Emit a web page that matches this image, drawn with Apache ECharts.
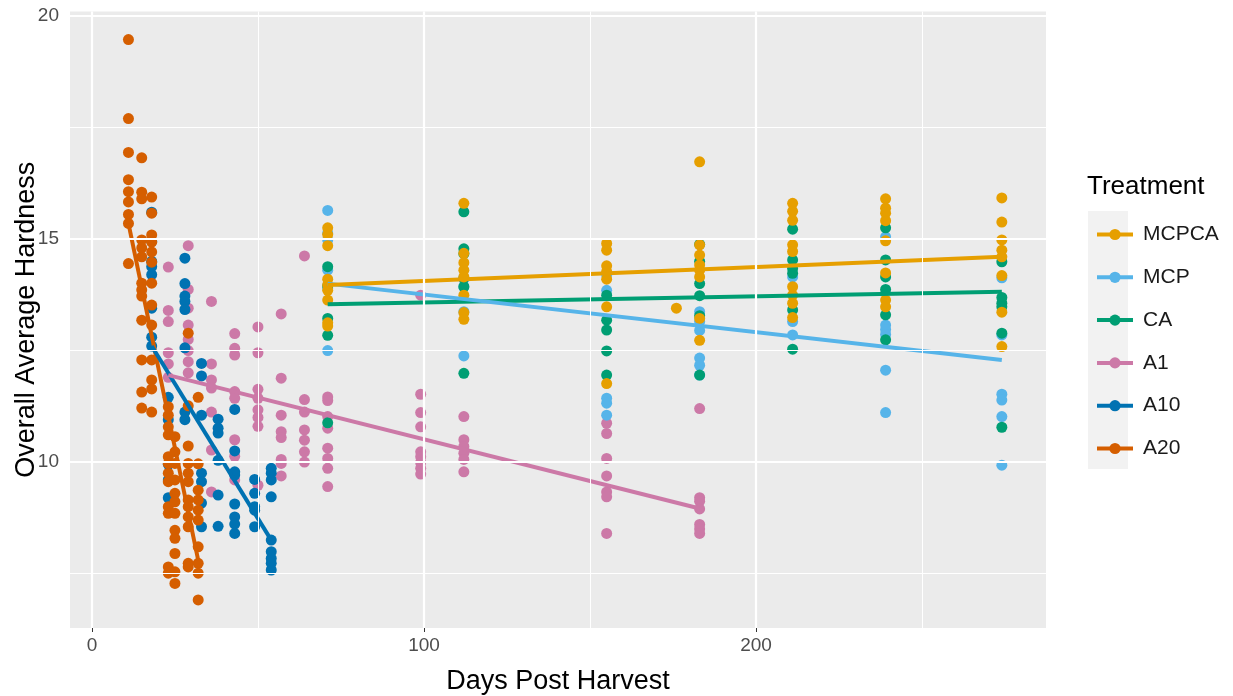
<!DOCTYPE html>
<html>
<head>
<meta charset="utf-8">
<script src="https://cdn.jsdelivr.net/npm/echarts@6/dist/echarts.min.js"></script>
<style>
  html, body { margin: 0; padding: 0; background: #ffffff; }
  #chart { width: 1233px; height: 696px; }
</style>
</head>
<body>
<div id="chart"></div>
<script>
// Hardness measurements by treatment: sampling day and the readings taken on that day
const A20_days = [11, 15, 18, 23, 25, 29, 32];
const A20_values = [
  [19.47, 17.70, 16.94, 16.33, 16.06, 15.83, 15.55, 15.35, 14.45],
  [16.82, 16.05, 15.90, 14.98, 14.80, 14.60, 14.01, 13.86, 13.72, 13.18, 12.29, 11.57, 11.21],
  [15.94, 15.58, 15.09, 14.93, 14.71, 14.48, 14.01, 13.52, 13.07, 12.29, 11.84, 11.64, 11.12],
  [11.24, 11.05, 10.79, 10.61, 10.12, 9.97, 9.75, 9.56, 9.00, 8.85, 7.65, 7.51],
  [10.57, 10.23, 9.97, 9.60, 9.30, 9.11, 8.85, 8.47, 8.29, 7.95, 7.54, 7.28],
  [12.89, 11.26, 10.36, 9.97, 9.75, 9.56, 9.15, 9.00, 8.77, 8.55, 7.73, 7.65],
  [11.45, 9.96, 9.37, 9.15, 8.92, 8.70, 8.10, 7.73, 7.51, 6.91]
];

const A10_days = [18, 23, 28, 33, 38, 43, 49, 54];
const A10_values = [
  [15.60, 14.95, 14.50, 14.38, 14.20, 13.45, 12.80, 12.60],
  [11.45, 10.95, 9.95, 9.60, 9.20],
  [14.57, 14.00, 13.72, 13.60, 13.42, 12.56, 11.12, 10.95],
  [12.21, 11.93, 11.05, 9.75, 9.56, 9.08, 8.55],
  [10.96, 10.76, 10.65, 10.04, 9.26, 8.56],
  [11.18, 10.25, 9.78, 9.71, 9.06, 8.77, 8.61, 8.40],
  [9.61, 9.30, 9.00, 8.92, 8.55],
  [9.86, 9.75, 9.60, 9.22, 8.25, 7.99, 7.84, 7.73, 7.58]
];

const A1_days = [23, 29, 36, 43, 50, 57, 64, 71, 99, 112, 155, 183];
const A1_values = [
  [14.37, 13.40, 13.15, 12.45, 12.20, 11.90],
  [14.85, 13.87, 13.45, 13.07, 12.75, 12.50, 12.25, 12.00],
  [13.60, 12.20, 11.84, 11.66, 11.12, 10.27, 9.33],
  [12.88, 12.55, 12.40, 11.58, 11.43, 10.50, 10.13, 9.60],
  [13.03, 12.45, 11.63, 11.43, 11.17, 11.00, 10.80, 9.48],
  [13.32, 11.88, 11.05, 10.68, 10.55, 10.06, 9.97, 9.69],
  [14.62, 11.40, 11.12, 10.72, 10.49, 10.23, 10.00],
  [11.46, 11.38, 11.02, 10.76, 10.31, 10.08, 9.86, 9.45],
  [13.74, 11.52, 11.11, 10.79, 10.23, 10.12, 9.99, 9.86, 9.73],
  [11.02, 10.50, 10.35, 10.20, 10.06, 9.78],
  [10.87, 10.64, 10.08, 9.69, 9.33, 9.22, 8.40],
  [11.20, 9.20, 9.12, 8.95, 8.60, 8.50, 8.40]
];

const MCP_days = [71, 112, 155, 183, 211, 239, 274];
const MCP_values = [
  [15.64, 15.13, 14.98, 14.30, 13.90, 12.50],
  [14.10, 13.93, 13.37, 12.38],
  [14.20, 13.85, 11.43, 11.32, 11.05],
  [13.37, 13.15, 12.95, 12.33, 12.17, 11.95],
  [14.15, 13.15, 12.85],
  [15.05, 13.07, 12.97, 12.86, 12.06, 11.11],
  [14.13, 12.85, 11.52, 11.39, 11.02, 9.93]
];

const CA_days = [71, 112, 155, 183, 211, 239, 274];
const CA_values = [
  [14.38, 13.95, 13.22, 12.84, 10.88],
  [15.61, 14.78, 14.67, 14.12, 13.93, 11.99],
  [13.74, 13.18, 12.96, 12.49, 11.95],
  [14.88, 14.50, 14.00, 13.73, 13.28, 11.95],
  [15.22, 14.53, 14.34, 14.23, 13.41, 12.53],
  [15.25, 14.53, 14.15, 13.87, 13.30, 12.74],
  [14.49, 13.69, 13.56, 13.48, 12.89, 10.78]
];

const MCPCA_days = [71, 112, 155, 176, 183, 211, 239, 274];
const MCPCA_values = [
  [15.25, 15.10, 14.85, 14.10, 13.97, 13.85, 13.63, 13.12, 13.05],
  [15.80, 14.68, 14.47, 14.30, 14.15, 13.74, 13.35, 13.20],
  [14.90, 14.75, 14.40, 14.27, 14.10, 13.48, 11.76],
  [13.45],
  [16.73, 14.87, 14.64, 14.42, 14.30, 14.15, 13.22, 12.73],
  [15.80, 15.62, 15.42, 14.87, 14.72, 13.93, 13.74, 13.56, 13.24],
  [15.90, 15.69, 15.58, 15.41, 14.96, 14.24, 13.63, 13.48],
  [15.92, 15.38, 14.98, 14.75, 14.60, 14.18, 13.36, 12.59]
];

// Linear trend for each treatment: [day, hardness] at the first and last sampling day
const MCPCA_fit = [[71, 13.97], [274, 14.60]];
const MCP_fit   = [[71, 14.00], [274, 12.29]];
const CA_fit    = [[71, 13.54], [274, 13.82]];
const A1_fit    = [[23, 11.95], [183, 8.96]];
const A10_fit   = [[18, 12.60], [54, 8.25]];
const A20_fit   = [[11, 15.35], [32, 7.80]];

const treatmentNames = ['MCPCA', 'MCP', 'CA', 'A1', 'A10', 'A20'];

// Axis breaks
const xMajor = [0, 100, 200];
const xMinor = [50, 150, 250];
const yMajor = [10, 15, 20];
const yMinor = [7.5, 12.5, 17.5];

const palette = {
  MCPCA: '#E69F00', MCP: '#56B4E9', CA: '#009E73',
  A1: '#CC79A7', A10: '#0072B2', A20: '#D55E00'
};

function toPoints(days, values) {
  const out = [];
  days.forEach((d, i) => values[i].forEach(v => out.push([d, v])));
  return out;
}

const groups = {
  MCPCA: { pts: toPoints(MCPCA_days, MCPCA_values), fit: MCPCA_fit },
  MCP:   { pts: toPoints(MCP_days, MCP_values),     fit: MCP_fit },
  CA:    { pts: toPoints(CA_days, CA_values),       fit: CA_fit },
  A1:    { pts: toPoints(A1_days, A1_values),       fit: A1_fit },
  A10:   { pts: toPoints(A10_days, A10_values),     fit: A10_fit },
  A20:   { pts: toPoints(A20_days, A20_values),     fit: A20_fit }
};

const FONT = '"Liberation Sans", Arial, Helvetica, sans-serif';

const series = [];

// panel grid lines
series.push({
  type: 'scatter',
  data: [],
  z: 1,
  silent: true,
  markLine: {
    silent: true,
    animation: false,
    symbol: ['none', 'none'],
    label: { show: false },
    emphasis: { disabled: true },
    data: [
      ...xMinor.map(v => ({ xAxis: v, lineStyle: { color: '#ffffff', width: 1, type: 'solid' } })),
      ...yMinor.map(v => ({ yAxis: v, lineStyle: { color: '#ffffff', width: 1, type: 'solid' } })),
      ...xMajor.map(v => ({ xAxis: v, lineStyle: { color: '#ffffff', width: 2.2, type: 'solid' } })),
      ...yMajor.map(v => ({ yAxis: v, lineStyle: { color: '#ffffff', width: 2.2, type: 'solid' } }))
    ]
  }
});

// trend lines (listed first so the legend takes its line + dot key from them)
const lineOrder = ['A20', 'A10', 'A1', 'CA', 'MCP', 'MCPCA'];
lineOrder.forEach(name => {
  series.push({
    name: name,
    type: 'line',
    data: groups[name].fit,
    z: 4,
    symbol: 'circle',
    showSymbol: false,
    silent: true,
    animation: false,
    lineStyle: { color: palette[name], width: 4 },
    itemStyle: { color: palette[name] }
  });
});

// observations
const pointOrder = ['A1', 'A10', 'A20', 'MCP', 'CA', 'MCPCA'];
pointOrder.forEach(name => {
  series.push({
    name: name,
    type: 'scatter',
    data: groups[name].pts,
    z: 2,
    symbol: 'circle',
    symbolSize: 11,
    silent: true,
    animation: false,
    itemStyle: { color: palette[name], opacity: 1 }
  });
});

const chart = echarts.init(document.getElementById('chart'), null, { renderer: 'canvas' });

chart.setOption({
  animation: false,
  backgroundColor: '#ffffff',
  textStyle: { fontFamily: FONT },
  grid: {
    left: 70, right: 187, top: 11.5, bottom: 68,
    show: true, backgroundColor: '#EBEBEB', borderWidth: 0,
    containLabel: false,
    outerBoundsMode: 'none'
  },
  xAxis: {
    type: 'value',
    min: -6.6, max: 287.3,
    splitLine: { show: false },
    axisLine: { show: false },
    axisTick: { show: true, customValues: xMajor, length: 4, lineStyle: { color: '#333333', width: 1 } },
    axisLabel: { customValues: xMajor, color: '#4D4D4D', fontSize: 19, margin: 8, fontFamily: FONT },
    name: 'Days Post Harvest',
    nameLocation: 'middle',
    nameGap: 40,
    nameMoveOverlap: false,
    nameTextStyle: { color: '#000000', fontSize: 27, fontFamily: FONT }
  },
  yAxis: {
    type: 'value',
    min: 6.28, max: 20.10,
    splitLine: { show: false },
    axisLine: { show: false },
    axisTick: { show: true, customValues: yMajor, length: 4, lineStyle: { color: '#333333', width: 1 } },
    axisLabel: { customValues: yMajor, color: '#4D4D4D', fontSize: 19, margin: 11, fontFamily: FONT },
    name: 'Overall Average Hardness',
    nameLocation: 'middle',
    nameGap: 30,
    nameRotate: 90,
    nameMoveOverlap: false,
    nameTextStyle: { color: '#000000', fontSize: 27, fontFamily: FONT }
  },
  legend: {
    data: treatmentNames,
    orient: 'vertical',
    left: 1090,
    top: 219,
    itemWidth: 36,
    itemHeight: 14,
    itemGap: 21.8,
    selectedMode: false,
    lineStyle: { width: 4 },
    textStyle: { color: '#1A1A1A', fontSize: 21, fontFamily: FONT, padding: [0, 0, 0, 5] }
  },
  graphic: [
    {
      type: 'rect',
      left: 1088, top: 211, z: -1,
      shape: { width: 40, height: 258 },
      style: { fill: '#F2F2F2' }
    },
    {
      type: 'text',
      left: 1087, top: 174,
      style: { text: 'Treatment', fontSize: 26, fill: '#000000', fontFamily: FONT }
    }
  ],
  series: series
});
</script>
</body>
</html>
